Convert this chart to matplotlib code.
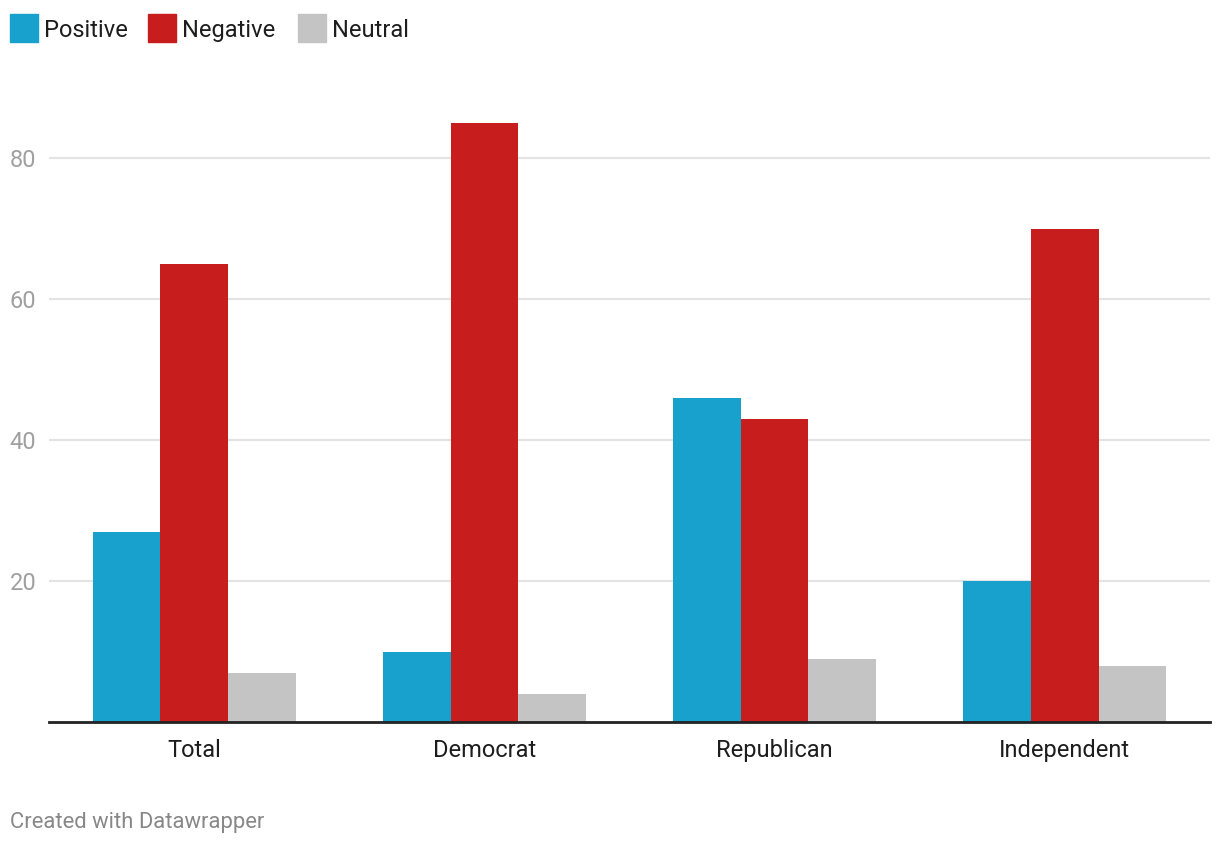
import numpy as np
import matplotlib.pyplot as plt
from matplotlib.patches import Rectangle

# Data
categories = ['Total', 'Democrat', 'Republican', 'Independent']
positive = [27, 10, 46, 20]
negative = [65, 85, 43, 70]
neutral = [7, 4, 9, 8]
yticks = [20, 40, 60, 80]

series_names = ['Positive', 'Negative', 'Neutral']
colors = ['#18a1cd', '#c71e1d', '#c4c4c4']

plt.rcParams['font.family'] = ['Roboto', 'DejaVu Sans']

fig = plt.figure(figsize=(12.2, 8.44), dpi=100)
ax = fig.add_axes([49 / 1220, 122 / 844, 1161 / 1220, 634 / 844])

x = np.arange(len(categories))
w = 0.7 / 3
for i, (vals, name, c) in enumerate(zip([positive, negative, neutral], series_names, colors)):
    ax.bar(x + (i - 1) * w, vals, width=w, color=c, label=name, zorder=2)

ax.set_xlim(-0.5, 3.5)
ax.set_ylim(0, 90)
ax.set_yticks(yticks)
ax.yaxis.grid(True, color='#e3e3e3', linewidth=1.5, zorder=0)
ax.set_xticks(x)
ax.set_xticklabels(categories, fontsize=17, color='#1d1d1d')
ax.tick_params(axis='x', length=0, pad=12)
ax.tick_params(axis='y', length=0, pad=9, labelsize=17, labelcolor='#a0a0a0')
for s in ['top', 'right', 'left']:
    ax.spines[s].set_visible(False)
ax.spines['bottom'].set_color('#222222')
ax.spines['bottom'].set_linewidth(2)
ax.spines['bottom'].set_zorder(3)

# Legend on top, drawn in figure pixels
lx = [10, 148, 298]
for px, name, c in zip(lx, series_names, colors):
    fig.patches.append(Rectangle((px / 1220, 1 - 42 / 844), 28 / 1220, 28 / 844,
                                 transform=fig.transFigure, color=c))
    fig.text((px + 34) / 1220, 1 - 28 / 844, name, fontsize=17, color='#1d1d1d',
             va='center_baseline', ha='left')

fig.text(10 / 1220, 1 - 820 / 844, 'Created with Datawrapper', fontsize=15.8,
         color='#888888', va='center_baseline', ha='left')

fig.savefig('out.png', dpi=100)
